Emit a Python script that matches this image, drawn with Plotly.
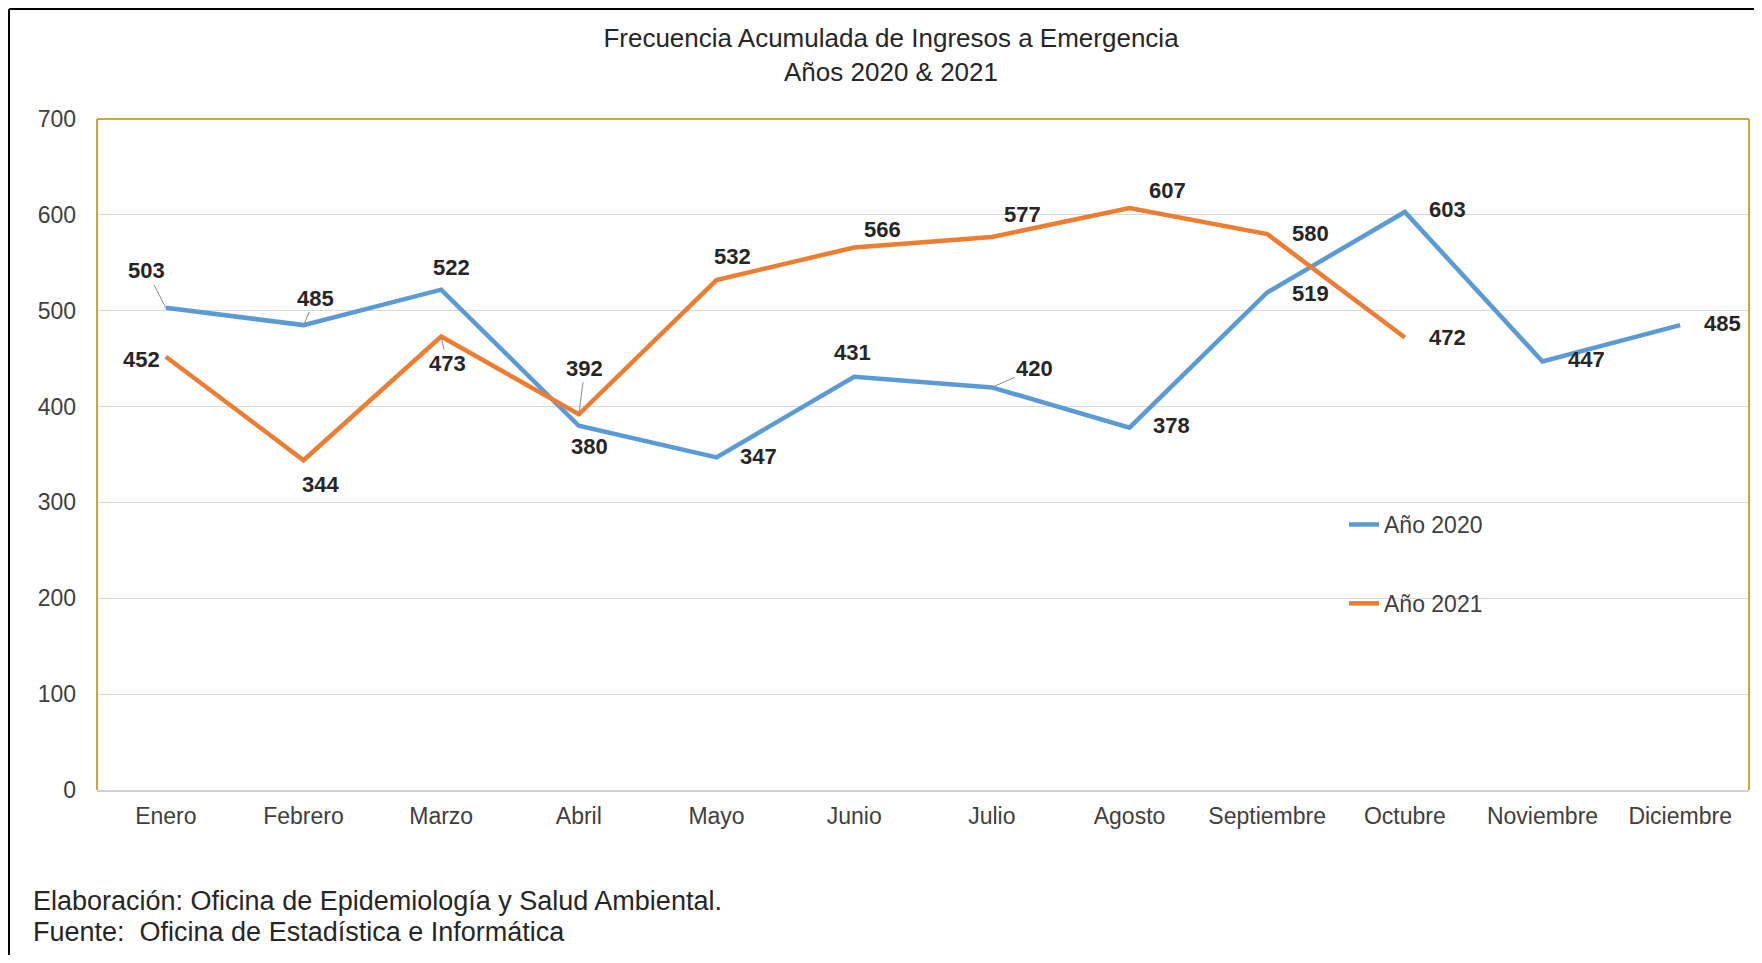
import plotly.graph_objects as go

meses = ["Enero", "Febrero", "Marzo", "Abril", "Mayo", "Junio", "Julio",
         "Agosto", "Septiembre", "Octubre", "Noviembre", "Diciembre"]
anio_2020 = [503, 485, 522, 380, 347, 431, 420, 378, 519, 603, 447, 485]
anio_2021 = [452, 344, 473, 392, 532, 566, 577, 607, 580, 472, None, None]

# desplazamiento de etiquetas (px) y si llevan linea guia
off_2020 = [(-19, -37, True), (12, -27, True), (10, -22, False), (11, 21, False),
            (42, -1, False), (-2, -24, False), (43, -19, True), (42, -2, False),
            (43, 1, False), (43, -2, False), (44, -2, False), (42, -2, False)]
off_2021 = [(-24, 3, False), (17, 24, False), (6, 27, True), (6, -46, True),
            (16, -24, False), (28, -18, False), (31, -22, False), (38, -18, False),
            (43, -1, False), (43, 0, False), None, None]

AZUL = "#5B9BD5"
NARANJA = "#ED7D31"
DORADO = "#CFA737"
FUENTE = "Liberation Sans, Arial, sans-serif"

# la pagina tiene 8px de margen en el body
M = 8
W, H = 1762 - 2 * M, 963 - 2 * M
L = 97 - M
T = 119 - M
R = W - (1749 - M)
B = H - (790 - M)
pw, ph = W - L - R, H - T - B


def px_x(p):
    return (p - M - L) / pw


def px_y(p):
    return (H - B - (p - M)) / ph


fig = go.Figure()
fig.add_trace(go.Scatter(x=meses, y=anio_2020, name="Año 2020", mode="lines",
                         line=dict(color=AZUL, width=4.5), legendgroup="a"))
fig.add_trace(go.Scatter(x=meses, y=anio_2021, name="Año 2021", mode="lines",
                         line=dict(color=NARANJA, width=4.5), legendgroup="b"))

anots = []
for serie, offs in ((anio_2020, off_2020), (anio_2021, off_2021)):
    for mes, v, o in zip(meses, serie, offs):
        if v is None:
            continue
        dx, dy, guia = o
        base = dict(x=mes, y=v, xref="x", yref="y", text=str(v),
                    font=dict(family=FUENTE, size=22, color="#262626", weight="bold"))
        if guia:
            anots.append(dict(base, showarrow=True, ax=dx, ay=dy, arrowhead=0,
                              arrowwidth=1, arrowcolor="#8c8c8c", standoff=0))
        else:
            anots.append(dict(base, showarrow=False, xshift=dx, yshift=-dy))

anots.append(dict(text="Elaboración: Oficina de Epidemiología y Salud Ambiental.",
                  xref="paper", yref="paper", x=px_x(31), y=px_y(901),
                  xanchor="left", yanchor="middle", showarrow=False,
                  font=dict(family=FUENTE, size=27, color="#262626")))
anots.append(dict(text="Fuente:\u00a0 Oficina de Estadística e Informática",
                  xref="paper", yref="paper", x=px_x(31), y=px_y(932),
                  xanchor="left", yanchor="middle", showarrow=False,
                  font=dict(family=FUENTE, size=27, color="#262626")))

shapes = [
    # marco del area de trazado
    dict(type="line", xref="paper", yref="paper", x0=0, x1=1, y0=1, y1=1,
         line=dict(color=DORADO, width=2)),
    dict(type="line", xref="paper", yref="paper", x0=0, x1=0, y0=0, y1=1,
         line=dict(color=DORADO, width=2)),
    dict(type="line", xref="paper", yref="paper", x0=1, x1=1, y0=0, y1=1,
         line=dict(color=DORADO, width=2)),
    # borde negro exterior
    dict(type="line", xref="paper", yref="paper", x0=px_x(9), x1=px_x(9),
         y0=px_y(9), y1=px_y(975), line=dict(color="black", width=2)),
    dict(type="line", xref="paper", yref="paper", x0=px_x(9), x1=px_x(1775),
         y0=px_y(9), y1=px_y(9), line=dict(color="black", width=2)),
]

fig.update_layout(
    width=W, height=H,
    margin=dict(l=L, r=R, t=T, b=B),
    paper_bgcolor="white", plot_bgcolor="white",
    font=dict(family=FUENTE, color="#404040"),
    title=dict(text="Frecuencia Acumulada de Ingresos a Emergencia<br>Años 2020 & 2021",
               x=(891 - M) / W, xanchor="center", y=1 - 39 / H, yanchor="top",
               font=dict(size=26, color="#262626")),
    xaxis=dict(range=[-0.5, 11.5], showgrid=False, showline=True,
               linecolor="#d0d0d0", linewidth=1.5, ticks="",
               ticklabelstandoff=5, tickfont=dict(size=23, color="#404040")),
    yaxis=dict(range=[0, 700], dtick=100, showgrid=True, gridcolor="#d9d9d9",
               gridwidth=1, zeroline=False, showline=False, ticks="",
               ticklabelstandoff=20, tickfont=dict(size=23, color="#404040")),
    legend=dict(x=px_x(1344), y=px_y(503), xanchor="left", yanchor="top",
                traceorder="grouped", tracegroupgap=46, bgcolor="rgba(0,0,0,0)",
                font=dict(size=23, color="#404040")),
    annotations=anots,
    shapes=shapes,
)

fig.write_html("out.html")
